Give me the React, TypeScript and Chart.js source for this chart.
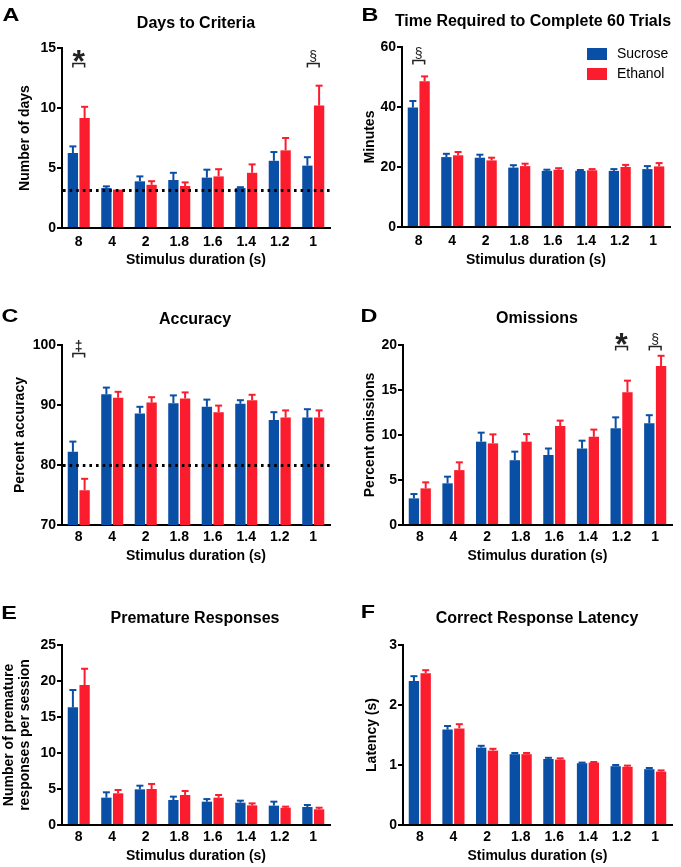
import React, { useEffect, useRef } from 'react';
import { Chart, registerables } from 'chart.js';

Chart.register(...registerables);

const FONT = "'Liberation Sans', Arial, Helvetica, sans-serif";
const BLUE = '#0a4fa6';
const RED = '#fb1c2d';

// ---------- data ----------
const durations = ['8', '4', '2', '1.8', '1.6', '1.4', '1.2', '1'];
const seriesNames = ['Sucrose', 'Ethanol'];

// A: Days to criteria
const daysSucrose = [6.25, 3.33, 3.89, 4.0, 4.2, 3.33, 5.6, 5.2];
const daysSucroseSem = [0.55, 0.14, 0.41, 0.6, 0.66, 0.07, 0.73, 0.7];
const daysEthanol = [9.17, 3.2, 3.6, 3.5, 4.3, 4.6, 6.47, 10.2];
const daysEthanolSem = [0.93, 0.0, 0.3, 0.3, 0.6, 0.7, 1.03, 1.66];
const daysCriterion = 3.2;

// B: Time to complete 60 trials
const timeSucrose = [39.8, 23.3, 23.1, 19.8, 18.7, 18.7, 18.7, 19.3];
const timeSucroseSem = [2.2, 1.1, 1.0, 0.8, 0.4, 0.3, 0.6, 1.0];
const timeEthanol = [48.6, 23.9, 22.2, 20.3, 19.1, 18.9, 20.0, 20.2];
const timeEthanolSem = [1.6, 1.1, 0.9, 0.8, 0.5, 0.4, 0.7, 1.1];

// C: Accuracy
const accSucrose = [82.2, 91.8, 88.6, 90.3, 89.7, 90.2, 87.5, 87.9];
const accSucroseSem = [1.7, 1.1, 1.1, 1.3, 1.2, 0.6, 1.3, 1.4];
const accEthanol = [75.8, 91.2, 90.4, 91.1, 88.8, 90.8, 87.9, 87.9];
const accEthanolSem = [1.9, 1.0, 0.9, 1.0, 1.1, 0.9, 1.2, 1.2];
const accCriterion = 80;

// D: Omissions
const omSucrose = [2.96, 4.63, 9.26, 7.2, 7.78, 8.5, 10.74, 11.3];
const omSucroseSem = [0.48, 0.74, 1.0, 0.95, 0.72, 0.87, 1.22, 0.9];
const omEthanol = [4.07, 6.1, 9.07, 9.26, 11.0, 9.8, 14.74, 17.67];
const omEthanolSem = [0.67, 0.86, 1.0, 0.84, 0.6, 0.8, 1.3, 1.13];

// E: Premature responses
const preSucrose = [16.34, 3.8, 4.95, 3.47, 3.24, 3.1, 2.69, 2.5];
const preSucroseSem = [2.41, 0.74, 0.51, 0.47, 0.36, 0.28, 0.55, 0.28];
const preEthanol = [19.44, 4.4, 5.0, 4.17, 3.8, 2.73, 2.4, 2.18];
const preEthanolSem = [2.26, 0.46, 0.7, 0.55, 0.37, 0.27, 0.15, 0.22];

// F: Correct response latency
const latSucrose = [2.4, 1.59, 1.29, 1.18, 1.1, 1.03, 0.98, 0.93];
const latSucroseSem = [0.08, 0.06, 0.03, 0.02, 0.02, 0.01, 0.02, 0.02];
const latEthanol = [2.53, 1.61, 1.24, 1.18, 1.09, 1.04, 0.97, 0.89];
const latEthanolSem = [0.05, 0.07, 0.03, 0.02, 0.02, 0.01, 0.02, 0.02];

type Mark = { index: number; symbol: string; level: number; size: number; weight: string };

type Panel = {
  key: string;
  x: number; y: number; w: number; h: number;
  plot: { l: number; r: number; t: number; b: number };
  letter: string; letterX: number; letterY: number;
  title: string; titleX: number; titleY: number;
  yTitle: string[]; yTitleX: number[];
  xTitleY: number; xTickPad: number;
  min: number; max: number; step: number;
  suc: number[]; sucSem: number[]; eth: number[]; ethSem: number[];
  refLine?: number;
  marks: Mark[];
  legend?: boolean;
};

const panels: Panel[] = [
  {
    key: 'A', x: 0, y: 0, w: 340, h: 270,
    plot: { l: 62, r: 330, t: 48, b: 228 },
    letter: 'A', letterX: 11, letterY: 16,
    title: 'Days to Criteria', titleX: 196, titleY: 24,
    yTitle: ['Number of days'], yTitleX: [25],
    xTitleY: 260, xTickPad: -2,
    min: 0, max: 15, step: 5,
    suc: daysSucrose, sucSem: daysSucroseSem, eth: daysEthanol, ethSem: daysEthanolSem,
    refLine: daysCriterion,
    marks: [
      { index: 0, symbol: '*', level: 13.75, size: 32, weight: 'bold' },
      { index: 7, symbol: '§', level: 13.75, size: 14, weight: 'normal' },
    ],
  },
  {
    key: 'B', x: 340, y: 0, w: 341, h: 270,
    plot: { l: 62, r: 330, t: 47, b: 227 },
    letter: 'B', letterX: 30, letterY: 16,
    title: 'Time Required to Complete 60 Trials', titleX: 193, titleY: 22,
    yTitle: ['Minutes'], yTitleX: [30],
    xTitleY: 260, xTickPad: -2,
    min: 0, max: 60, step: 20,
    suc: timeSucrose, sucSem: timeSucroseSem, eth: timeEthanol, ethSem: timeEthanolSem,
    marks: [{ index: 0, symbol: '§', level: 55.6, size: 14, weight: 'normal' }],
    legend: true,
  },
  {
    key: 'C', x: 0, y: 270, w: 340, h: 300,
    plot: { l: 62, r: 330, t: 75, b: 255 },
    letter: 'C', letterX: 10, letterY: 47,
    title: 'Accuracy', titleX: 195, titleY: 50,
    yTitle: ['Percent accuracy'], yTitleX: [20],
    xTitleY: 286, xTickPad: -4,
    min: 70, max: 100, step: 10,
    suc: accSucrose, sucSem: accSucroseSem, eth: accEthanol, ethSem: accEthanolSem,
    refLine: accCriterion,
    marks: [{ index: 0, symbol: '‡', level: 98.6, size: 14, weight: 'bold' }],
  },
  {
    key: 'D', x: 340, y: 270, w: 341, h: 300,
    plot: { l: 63, r: 332, t: 75, b: 255 },
    letter: 'D', letterX: 29, letterY: 47,
    title: 'Omissions', titleX: 197, titleY: 49,
    yTitle: ['Percent omissions'], yTitleX: [30],
    xTitleY: 286, xTickPad: -4,
    min: 0, max: 20, step: 5,
    suc: omSucrose, sucSem: omSucroseSem, eth: omEthanol, ethSem: omEthanolSem,
    marks: [
      { index: 6, symbol: '*', level: 19.85, size: 32, weight: 'bold' },
      { index: 7, symbol: '§', level: 19.85, size: 14, weight: 'normal' },
    ],
  },
  {
    key: 'E', x: 0, y: 570, w: 340, h: 297,
    plot: { l: 62, r: 330, t: 75, b: 255 },
    letter: 'E', letterX: 9, letterY: 44,
    title: 'Premature Responses', titleX: 195, titleY: 49,
    yTitle: ['Number of premature', 'responses per session'], yTitleX: [9, 25],
    xTitleY: 286, xTickPad: -4,
    min: 0, max: 25, step: 5,
    suc: preSucrose, sucSem: preSucroseSem, eth: preEthanol, ethSem: preEthanolSem,
    marks: [],
  },
  {
    key: 'F', x: 340, y: 570, w: 341, h: 297,
    plot: { l: 63, r: 332, t: 75, b: 255 },
    letter: 'F', letterX: 28, letterY: 43,
    title: 'Correct Response Latency', titleX: 197, titleY: 49,
    yTitle: ['Latency (s)'], yTitleX: [32],
    xTitleY: 286, xTickPad: -4,
    min: 0, max: 3, step: 1,
    suc: latSucrose, sucSem: latSucroseSem, eth: latEthanol, ethSem: latEthanolSem,
    marks: [],
  },
];

function makePlugin(p: Panel) {
  return {
    id: 'panelDecor' + p.key,
    afterDatasetsDraw(chart: any) {
      const ctx: CanvasRenderingContext2D = chart.ctx;
      const yScale = chart.scales.y;
      const area = chart.chartArea;
      ctx.save();
      // error bars (upward only)
      const sems = [p.sucSem, p.ethSem];
      const vals = [p.suc, p.eth];
      const cols = [BLUE, RED];
      for (let d = 0; d < 2; d++) {
        const meta = chart.getDatasetMeta(d);
        meta.data.forEach((bar: any, i: number) => {
          const sem = sems[d][i];
          if (!sem) return;
          const yTop = yScale.getPixelForValue(vals[d][i] + sem);
          ctx.strokeStyle = cols[d];
          ctx.lineWidth = 2;
          ctx.beginPath();
          ctx.moveTo(bar.x, bar.y);
          ctx.lineTo(bar.x, yTop);
          ctx.stroke();
          ctx.beginPath();
          ctx.moveTo(bar.x - 3.5, yTop);
          ctx.lineTo(bar.x + 3.5, yTop);
          ctx.stroke();
        });
      }
      // dotted criterion line
      if (p.refLine !== undefined) {
        const yy = Math.round(yScale.getPixelForValue(p.refLine)) + 0.5;
        ctx.strokeStyle = '#000';
        ctx.lineWidth = 3;
        ctx.setLineDash([2.6, 4]);
        ctx.beginPath();
        ctx.moveTo(area.left + 1, yy);
        ctx.lineTo(area.right, yy);
        ctx.stroke();
        ctx.setLineDash([]);
      }
      // significance brackets
      p.marks.forEach((m) => {
        const b0 = chart.getDatasetMeta(0).data[m.index];
        const b1 = chart.getDatasetMeta(1).data[m.index];
        const yb = Math.round(yScale.getPixelForValue(m.level)) + 0.5;
        ctx.strokeStyle = '#222';
        ctx.lineWidth = 1.5;
        ctx.beginPath();
        ctx.moveTo(b0.x, yb + 4);
        ctx.lineTo(b0.x, yb);
        ctx.lineTo(b1.x, yb);
        ctx.lineTo(b1.x, yb + 4);
        ctx.stroke();
        ctx.fillStyle = '#222';
        ctx.font = `${m.weight} ${m.size}px ${FONT}`;
        ctx.textAlign = 'center';
        ctx.textBaseline = 'alphabetic';
        const mt = ctx.measureText(m.symbol);
        const base = yb - 2 - mt.actualBoundingBoxDescent;
        ctx.fillText(m.symbol, (b0.x + b1.x) / 2, base);
      });
      ctx.restore();
    },
    afterDraw(chart: any) {
      const ctx: CanvasRenderingContext2D = chart.ctx;
      const area = chart.chartArea;
      ctx.save();
      ctx.fillStyle = '#000';
      ctx.textAlign = 'center';
      ctx.textBaseline = 'middle';
      // panel letter
      ctx.save();
      ctx.translate(p.letterX, p.letterY);
      ctx.scale(1.3, 1);
      ctx.font = `bold 18px ${FONT}`;
      ctx.fillText(p.letter, 0, 0);
      ctx.restore();
      // title
      ctx.font = `bold 16px ${FONT}`;
      ctx.fillText(p.title, p.titleX, p.titleY);
      // x title
      ctx.font = `bold 14px ${FONT}`;
      ctx.fillText('Stimulus duration (s)', (area.left + area.right) / 2, p.xTitleY);
      // y title
      const midY = (area.top + area.bottom) / 2;
      p.yTitle.forEach((line, i) => {
        ctx.save();
        ctx.translate(p.yTitleX[i], midY);
        ctx.rotate(-Math.PI / 2);
        ctx.fillText(line, 0, 0);
        ctx.restore();
      });
      // legend
      if (p.legend) {
        const cols = [BLUE, RED];
        ctx.font = `14px ${FONT}`;
        ctx.textAlign = 'left';
        seriesNames.forEach((name, i) => {
          const top = 48 + i * 20;
          ctx.fillStyle = cols[i];
          ctx.fillRect(247, top, 20, 12);
          ctx.fillStyle = '#000';
          ctx.fillText(name, 277, top + 6.5);
        });
      }
      ctx.restore();
    },
  };
}

function PanelChart({ p }: { p: Panel }) {
  const ref = useRef<HTMLCanvasElement>(null);
  useEffect(() => {
    const canvas = ref.current;
    if (!canvas) return;
    const tickFont = { family: FONT, size: 14, weight: 'bold' as const };
    const chart = new Chart(canvas, {
      type: 'bar',
      data: {
        labels: durations,
        datasets: [
          { label: seriesNames[0], data: p.suc, backgroundColor: BLUE, borderWidth: 0, categoryPercentage: 0.7, barPercentage: 0.88 },
          { label: seriesNames[1], data: p.eth, backgroundColor: RED, borderWidth: 0, categoryPercentage: 0.7, barPercentage: 0.88 },
        ],
      },
      options: {
        responsive: false,
        animation: false,
        devicePixelRatio: 1,
        layout: { padding: { top: p.plot.t, left: 0, right: p.w - p.plot.r, bottom: 0 } },
        plugins: { legend: { display: false }, title: { display: false }, tooltip: { enabled: false } },
        scales: {
          x: {
            offset: true,
            grid: { display: false },
            border: { display: true, color: '#000', width: 2 },
            ticks: { font: tickFont, color: '#000', padding: p.xTickPad, maxRotation: 0 },
            afterFit: (s: any) => { s.height = p.h - p.plot.b; },
          },
          y: {
            min: p.min,
            max: p.max,
            beginAtZero: false,
            grid: { display: true, drawOnChartArea: false, drawTicks: true, tickLength: 5, lineWidth: 2, color: '#000' },
            border: { display: true, color: '#000', width: 2 },
            ticks: { stepSize: p.step, font: tickFont, color: '#000', padding: 1 },
            afterFit: (s: any) => { s.width = p.plot.l; },
          },
        },
      },
      plugins: [makePlugin(p)],
    } as any);
    return () => chart.destroy();
  }, [p]);
  return (
    <canvas
      ref={ref}
      width={p.w}
      height={p.h}
      style={{ position: 'absolute', left: p.x, top: p.y, width: p.w, height: p.h }}
    />
  );
}

export default function App() {
  return (
    <div style={{ position: 'absolute', left: 0, top: 0, width: 681, height: 867, background: '#fff', overflow: 'hidden' }}>
      {panels.map((p) => (
        <PanelChart key={p.key} p={p} />
      ))}
    </div>
  );
}
